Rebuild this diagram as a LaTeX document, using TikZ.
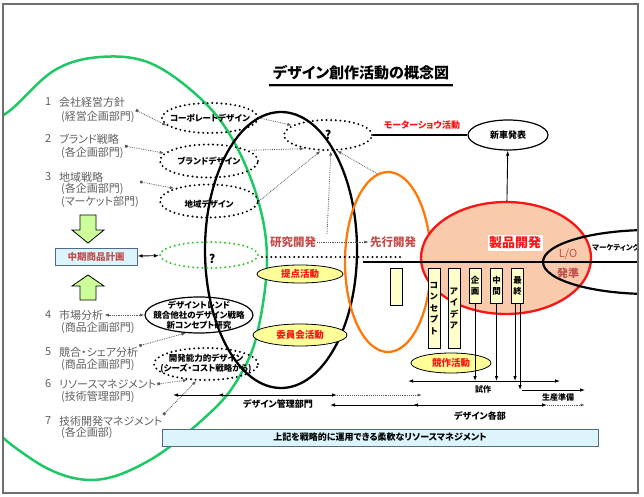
\documentclass[tikz,border=0pt]{standalone}
\usepackage{fontspec}
\setmainfont{Noto Sans CJK JP}[RawFeature=+palt]
\usetikzlibrary{arrows.meta,shapes.geometric,positioning}
\definecolor{dsGreen}{RGB}{30,200,100}
\definecolor{dsGreenDot}{RGB}{40,200,40}
\definecolor{dsOrange}{RGB}{255,120,10}
\definecolor{dsRed}{RGB}{250,20,20}
\definecolor{dsBrown}{RGB}{192,80,77}
\definecolor{dsSalmon}{RGB}{249,203,172}
\definecolor{dsYellow}{RGB}{255,255,153}
\definecolor{dsCream}{RGB}{255,255,204}
\definecolor{dsCyan}{RGB}{220,244,252}
\definecolor{dsBlueLine}{RGB}{80,105,140}
\definecolor{dsLime}{RGB}{204,255,153}
\definecolor{dsGray}{RGB}{95,95,95}
\definecolor{dsLink}{RGB}{90,90,90}
\definecolor{dsFrame}{RGB}{110,110,110}

\begin{document}
\begin{tikzpicture}[x=1pt,y=-1pt,>={Latex[length=5pt,width=3.6pt]},
  dotell/.style={ellipse,draw,line width=2.2pt,dash pattern=on 0pt off 4.6pt,line cap=round,inner sep=0pt},
  etxt/.style={inner sep=0pt,align=center,font=\bfseries\fontsize{8.5}{10}\selectfont},
  qtxt/.style={inner sep=0pt,font=\bfseries\fontsize{12}{14}\selectfont},
  ltxt/.style={anchor=west,align=left,inner sep=1pt,text=dsGray,font=\fontsize{11}{13.5}\selectfont},
  link/.style={densely dotted,line width=0.8pt,draw=dsLink,-{Latex[length=4.5pt,width=3.2pt]}},
  link2/.style={link,{Square[length=2.6pt,width=2.6pt]}-{Latex[length=4.5pt,width=3.2pt]}},
  yell/.style={ellipse,draw,fill=dsYellow,line width=0.8pt,inner sep=0pt,text=dsRed,font=\bfseries\fontsize{9.5}{11}\selectfont},
  vbox/.style={draw,fill=dsCream,line width=0.8pt,minimum width=12pt,inner sep=0pt,anchor=north,align=center,font=\bfseries\fontsize{8.5}{11.5}\selectfont},
  bluebox/.style={draw=dsBlueLine,fill=dsCyan,line width=1pt,inner sep=0pt},
  redlbl/.style={inner sep=1pt,text=dsBrown,font=\bfseries\fontsize{11.5}{13}\selectfont},
  bar/.style={line width=0.9pt,<->},
  small/.style={inner sep=0pt,font=\bfseries\fontsize{8}{9}\selectfont}]
\useasboundingbox (0,0) rectangle (644,497);

% large regions
\begin{scope}
\clip (3,4) rectangle (638,493);
\draw[dsGreen,line width=2.5pt] plot[smooth cycle,tension=0.6] coordinates {(13,108) (55,70) (100,57) (150,63) (200,98) (233,140) (258,200) (267,260) (258,330) (242,372) (213,410) (150,460) (90,480) (30,458) (-25,400) (-70,260) (-35,150)};
\end{scope}
\draw[line width=2.3pt] (281,250) ellipse (76 and 138);
\node[ellipse,draw=dsOrange,line width=2.3pt,minimum width=86pt,minimum height=180pt] (adv) at (388,262) {};
\node[ellipse,draw=dsRed,fill=dsSalmon,line width=2.3pt,minimum width=170pt,minimum height=112pt] (prod) at (506,258) {};
\begin{scope}
\clip (3,4) rectangle (638,493);
\draw[line width=2.2pt] (650,262) ellipse (107 and 32);
\node[anchor=west,inner sep=0pt,font=\bfseries\fontsize{7.5}{9}\selectfont] (mkt) at (592,248) {マーケティング};
\end{scope}
\coordinate (hl1) at (363,262);
\coordinate (hl2) at (638,262);
\draw[line width=1.8pt] (hl1) -- (hl2);
\coordinate (dl1) at (262,257);
\coordinate (dl2) at (403,257);
\draw[line width=2.2pt,dash pattern=on 0pt off 4.6pt,line cap=round] (dl1) -- (dl2);

% title
\node[font=\bfseries\fontsize{15}{18}\selectfont] (title) at (361,73) {デザイン創作活動の概念図};
\draw[line width=1.6pt] ([yshift=-1pt]title.south west) -- ([yshift=-1pt]title.south east);
\draw[gray!60,line width=1pt] ([yshift=-3pt]title.south west) -- ([yshift=-3pt]title.south east);

% left column
\foreach \i/\ya/\yb/\ttl/\dep in {1/102/117/会社経営方針/(経営企画部門),
    2/139/153/ブランド戦略/(各企画部門),
    3/177/195.5/地域戦略/{(各企画部門)\\(マーケット部門)},
    4/315/328/市場分析/(商品企画部門),
    5/352/365/競合・シェア分析/(商品企画部門),
    6/384/397/リソースマネジメント/(技術管理部門),
    7/421/433/技術開発マネジメント/(各企画部)}{
  \node[ltxt] (n\i) at (44,\ya) {\i};
  \node[ltxt] (t\i) at (58,\ya) {\ttl};
  \node[ltxt] (d\i) at (60,\yb) {\dep};
}

% design ellipses
\node[dotell,minimum width=96pt,minimum height=30pt] (corp) at (210,118) {};
\node[etxt] (corpT) at (corp) {コーポレートデザイン};
\node[dotell,minimum width=98pt,minimum height=33pt] (brand) at (209,161) {};
\node[etxt] (brandT) at (brand) {ブランドデザイン};
\node[dotell,minimum width=98pt,minimum height=33pt] (region) at (209,201) {};
\node[etxt] (regionT) at ([yshift=-3pt]region) {地域デザイン};
\node[dotell,minimum width=88pt,minimum height=30pt] (q) at (328,135) {};
\node[qtxt] (qT) at (q) {?};
\node[dotell,draw=dsGreenDot,minimum width=98pt,minimum height=26pt] (gq) at (209,255) {};
\node[qtxt] (gqT) at ([xshift=3pt,yshift=-4pt]gq) {?};
\node[ellipse,draw,line width=1.2pt,minimum width=108pt,minimum height=36pt] (trend) at (199,315) {};
\node[etxt] (trendT) at (trend) {デザイントレンド\\競合他社のデザイン戦略\\新コンセプト研究};
\node[dotell,minimum width=104pt,minimum height=32pt] (devcap) at (206,364) {};
\node[etxt] (devcapT) at (devcap) {開発能力的デザイン\\(シーズ・コスト戦略から)};

% planning
\node[bluebox,text=dsBrown,minimum width=82pt,minimum height=17pt,font=\bfseries\fontsize{9.5}{11}\selectfont] (plan) at (96,256.5) {中期商品計画};
\draw[fill=dsLime,line width=0.8pt] (80,215) -- (96,215) -- (96,230) -- (104,230) -- (88,243) -- (72,230) -- (80,230) -- cycle;
\draw[fill=dsLime,line width=0.8pt] (88,275) -- (104,286) -- (96,286) -- (96,300) -- (80,300) -- (80,286) -- (72,286) -- cycle;
\draw[<->,line width=0.9pt] (plan) -- (gq);

% activities
\node[yell,minimum width=86pt,minimum height=18pt] (teian) at (300,274) {提点活動};
\node[yell,minimum width=94pt,minimum height=22pt] (iinkai) at (300,335) {委員会活動};
\node[yell,minimum width=80pt,minimum height=20pt] (kyosaku) at (451,363) {競作活動};
\node[redlbl] (rd) at (293,242) {研究開発};
\node[redlbl] (av) at (393,242) {先行開発};
\node[inner sep=1.5pt,fill=white,text=dsRed,font=\bfseries\fontsize{13}{15}\selectfont] (pd) at (515,243) {製品開発};
\node[inner sep=0pt,text=dsBrown,font=\fontsize{11}{13}\selectfont] (lo) at (568,254) {L/O};
\node[inner sep=0pt,text=dsBrown,font=\bfseries\fontsize{11}{13}\selectfont] (hj) at (568,273) {発準};
\node[inner sep=0pt,text=dsRed,font=\bfseries\fontsize{9}{11}\selectfont] (ms) at (422,125) {モーターショウ活動};
\node[ellipse,draw,line width=1.2pt,minimum width=80pt,minimum height=30pt,inner sep=0pt,font=\bfseries\fontsize{9}{11}\selectfont] (show) at (508,135) {新車発表};

% links
\draw[link2] (d1.north east) -- (corp.190);
\draw[link2] (d2.north east) -- (brand.170);
\draw[link2] (d3.north east) -- (region.160);
\draw[link] (corp.east) -- (q.165);
\draw[link] (brand.15) -- (q.210);
\draw[link] (region.east) -- (q.245);
\coordinate (rdtop) at (327,234);
\draw[link] (rdtop) -- (q.280);
\draw[link] (adv.97) -- (q.300);
\draw[link] (rd) -- (av);
\draw[link,{Latex[length=4.5pt,width=3.2pt]}-{Latex[length=4.5pt,width=3.2pt]}] (t4) -- (trend);
\draw[link2] (t5.north east) -- (trend.234);
\draw[link2] (t6.east) -- (devcap.221);
\draw[link2] (t7.north east) -- (devcap.240);
\draw[line width=1.5pt] (q) -- (show);
\draw[->,line width=0.9pt] (prod) -- (show);

% stage boxes
\node[vbox,minimum height=37pt] (pre) at (396,268) {};
\node[vbox,minimum height=80pt] (concept) at (434,268) {コ\\ン\\セ\\プ\\ト};
\node[vbox,minimum height=80pt] (idea) at (454,268) {ア\\イ\\デ\\ア};
\node[vbox,minimum height=35pt] (kikaku) at (475,268) {企\\画};
\node[vbox,minimum height=35pt] (chukan) at (496.5,268) {中\\間};
\node[vbox,minimum height=35pt] (saishu) at (517.5,268) {最\\終};

% schedule bars
\coordinate (l1a) at (408,381);
\coordinate (l1b) at (560,381);
\coordinate (l2a) at (522,390);
\coordinate (l2b) at (585,390);
\draw[bar] (l1a) -- (l1b);
\draw[bar,-{Latex[length=5pt,width=3.6pt]}] (l2a) -- (l2b);
\draw[->,line width=0.9pt] (kikaku.south) -- (kikaku.south |- l1a);
\draw[->,line width=0.9pt] (chukan.south) -- (chukan.south |- l1a);
\draw[->,line width=0.9pt] ([xshift=-2.5pt]saishu.south) -- ([xshift=-2.5pt]saishu.south |- l1a);
\draw[->,line width=0.9pt] ([xshift=2.5pt]saishu.south) -- ([xshift=2.5pt]saishu.south |- l2a);
\node[small] (trial) at (483,389) {試作};
\node[small] (prep) at (558,397) {生産準備};

\coordinate (m1) at (173,395);
\coordinate (m2) at (218,395);
\coordinate (m3) at (337,395);
\coordinate (m4) at (422,395);
\draw[bar] (m1) -- (m3);
\draw[->,line width=0.9pt] ([xshift=8pt]m2) -- (m2);
\draw[link,line width=0.9pt] (m3) -- (m4);
\node[small,font=\bfseries\fontsize{9}{11}\selectfont] (mgmt) at (278,404) {デザイン管理部門};

\coordinate (e1) at (330,405);
\coordinate (e2) at (413,405);
\coordinate (e3) at (547,405);
\coordinate (e4) at (585,405);
\draw[bar] (e1) -- (e3);
\draw[->,line width=0.9pt] ([xshift=8pt]e2) -- (e2);
\draw[link,line width=0.9pt] (e3) -- (e4);
\node[small,font=\bfseries\fontsize{9}{11}\selectfont] (each) at (480,416) {デザイン各部};

\node[bluebox,minimum width=436pt,minimum height=17pt,font=\bfseries\fontsize{9}{11}\selectfont] (base) at (380,437.5) {上記を戦略的に運用できる柔軟なリソースマネジメント};

% frame
\draw[dsFrame,line width=1.2pt] (3,4) rectangle (638,493);
\end{tikzpicture}
\end{document}
